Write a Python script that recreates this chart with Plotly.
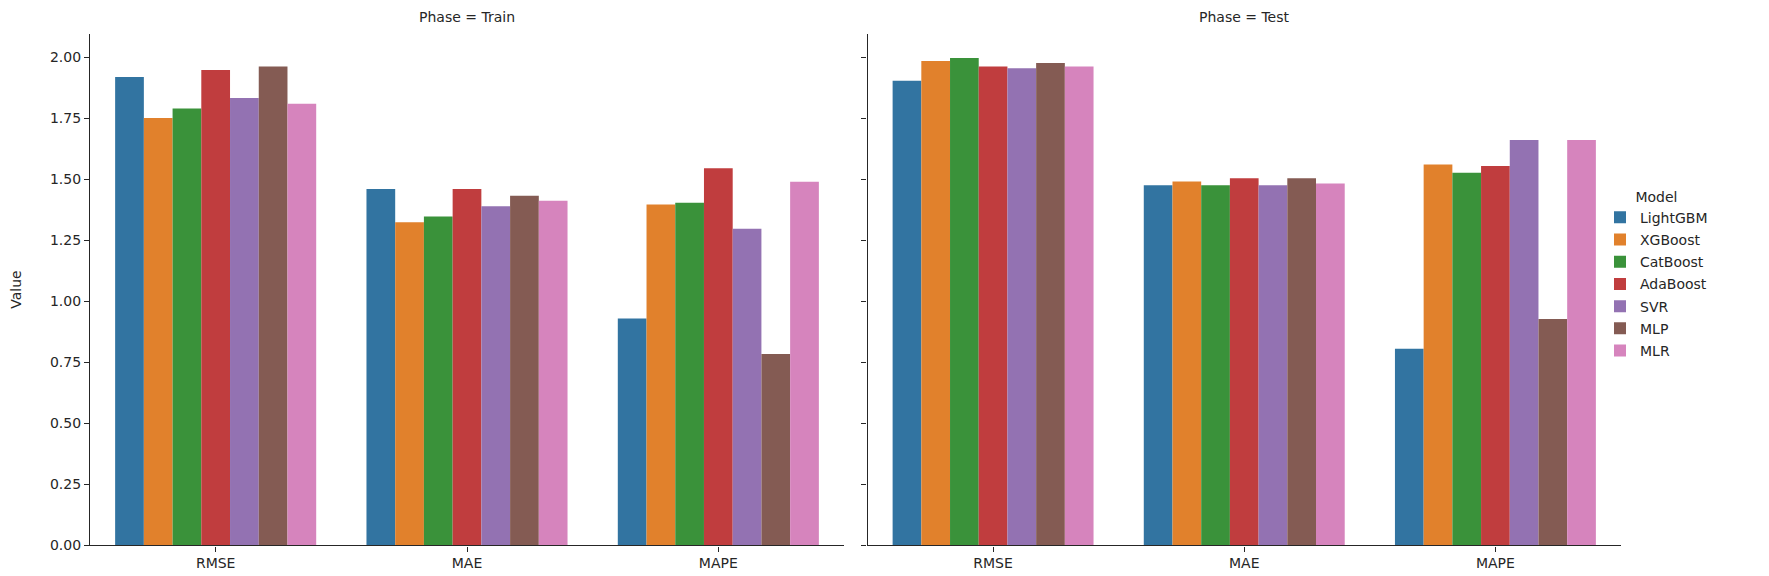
import plotly.graph_objects as go

metrics = ["RMSE", "MAE", "MAPE"]
models = ["LightGBM", "XGBoost", "CatBoost", "AdaBoost", "SVR", "MLP", "MLR"]
colors = ["#3274a1", "#e1812c", "#3a923a", "#c03d3e", "#9372b2", "#845b53", "#d684bd"]

# values per model: [RMSE, MAE, MAPE]
train_vals = {
    "LightGBM": [1.918, 1.460, 0.929],
    "XGBoost":  [1.751, 1.324, 1.396],
    "CatBoost": [1.789, 1.347, 1.403],
    "AdaBoost": [1.947, 1.460, 1.545],
    "SVR":      [1.832, 1.389, 1.297],
    "MLP":      [1.961, 1.432, 0.784],
    "MLR":      [1.809, 1.412, 1.489],
}
test_vals = {
    "LightGBM": [1.903, 1.475, 0.805],
    "XGBoost":  [1.984, 1.490, 1.560],
    "CatBoost": [1.996, 1.475, 1.526],
    "AdaBoost": [1.961, 1.504, 1.554],
    "SVR":      [1.954, 1.475, 1.660],
    "MLP":      [1.976, 1.504, 0.927],
    "MLR":      [1.961, 1.482, 1.660],
}

W, H = 1769, 576
FONT = "DejaVu Sans"
TXT = "#262626"

fig = go.Figure()
for m, c in zip(models, colors):
    fig.add_trace(go.Bar(x=metrics, y=train_vals[m], name=m, marker_color=c,
                         marker_line_width=0, legendgroup=m, showlegend=True,
                         xaxis="x", yaxis="y"))
    fig.add_trace(go.Bar(x=metrics, y=test_vals[m], name=m, marker_color=c,
                         marker_line_width=0, legendgroup=m, showlegend=False,
                         xaxis="x2", yaxis="y2"))

axis_common = dict(showline=True, linecolor=TXT, linewidth=1.25, ticks="outside",
                   ticklen=5, tickwidth=1.25, tickcolor=TXT, showgrid=False,
                   zeroline=False, tickfont=dict(family=FONT, size=14, color=TXT))

xd1 = [82 / W, 836 / W]
xd2 = [859.5 / W, 1613 / W]
yd = [1 - 545 / H, 1 - 26 / H]
yr = [0, 2.096]
yticks = [0, 0.25, 0.5, 0.75, 1.0, 1.25, 1.5, 1.75, 2.0]

fig.update_layout(
    width=W, height=H,
    margin=dict(l=0, r=0, t=0, b=0),
    plot_bgcolor="white", paper_bgcolor="white",
    barmode="group", bargap=0.2, bargroupgap=0,
    font=dict(family=FONT, size=14, color=TXT),
    xaxis=dict(domain=xd1, anchor="y", type="category", range=[-0.5, 2.5], **axis_common),
    xaxis2=dict(domain=xd2, anchor="y2", type="category", range=[-0.5, 2.5], **axis_common),
    yaxis=dict(domain=yd, anchor="x", range=yr, tickvals=yticks, tickformat=".2f",
               title=dict(text="Value", font=dict(family=FONT, size=14, color=TXT), standoff=26),
               **axis_common),
    yaxis2=dict(domain=yd, anchor="x2", range=yr, tickvals=yticks,
                showticklabels=False, **axis_common),
    legend=dict(x=1592 / W, y=1 - 178 / H, xanchor="left", yanchor="top",
                bgcolor="rgba(0,0,0,0)", tracegroupgap=1,
                title=dict(text="Model", side="top center", font=dict(family=FONT, size=14, color=TXT)),
                font=dict(family=FONT, size=14, color=TXT)),
    annotations=[
        dict(text="Phase = Train", x=(xd1[0] + xd1[1]) / 2, y=1 - 9 / H, xref="paper", yref="paper",
             showarrow=False, xanchor="center", yanchor="middle", font=dict(family=FONT, size=14, color=TXT)),
        dict(text="Phase = Test", x=(xd2[0] + xd2[1]) / 2, y=1 - 9 / H, xref="paper", yref="paper",
             showarrow=False, xanchor="center", yanchor="middle", font=dict(family=FONT, size=14, color=TXT)),
    ],
)

fig.write_html("out.html")
